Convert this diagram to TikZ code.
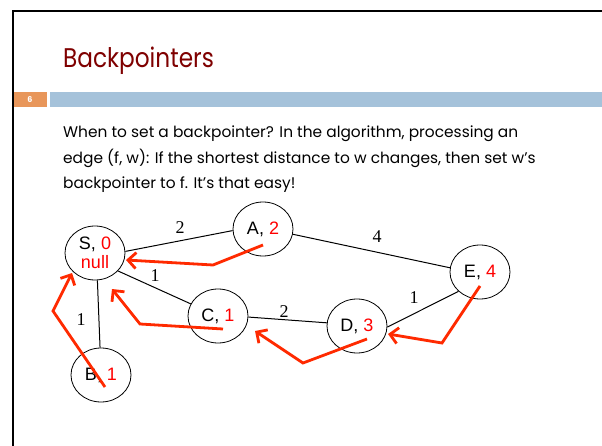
\documentclass[tikz,border=0pt]{standalone}
\usepackage{fontspec}
\setmainfont{Poppins}
\newfontfamily\titlefont[FakeStretch=0.86]{Poppins}
\newfontfamily\arialfont{Liberation Sans}
\newfontfamily\timesfont{Liberation Serif}
\usetikzlibrary{shapes.geometric,arrows.meta}
\definecolor{titlered}{HTML}{7F0000}
\definecolor{barorange}{HTML}{E8965A}
\definecolor{barblue}{HTML}{A5C2DA}
\definecolor{arrowred}{HTML}{FF2A00}
\begin{document}
\begin{tikzpicture}[x=1pt,y=-1pt,
  gnode/.style={draw, ellipse, minimum width=60pt, minimum height=54pt, inner sep=0pt,
    font=\arialfont\fontsize{18}{19}\selectfont, line width=0.8pt, align=center},
  edgeline/.style={line width=1pt},
  wlabel/.style={font=\timesfont\fontsize{18}{18}\selectfont, inner sep=0pt},
  bodytext/.style={anchor=base west, inner sep=0pt, font=\fontsize{15.4}{16}\selectfont},
  bp/.style={draw=arrowred, line width=2.8pt, line join=miter,
    -{Straight Barb[length=8pt,width=16pt]}},
]
\useasboundingbox (0,0) rectangle (602,446);
\fill[white] (0,0) rectangle (602,446);
% slide frame
\draw[line width=2.2pt] (13,460) -- (13,11) -- (620,11);
% title
\node[anchor=base west, text=titlered, inner sep=0pt,
  font=\titlefont\fontsize{27}{30}\selectfont] (title) at (63,68) {Backpointers};
% bars
\fill[barorange] (14,92) rectangle (47,107);
\fill[barblue] (50,92) rectangle (602,107);
\node[text=white, font=\bfseries\fontsize{8}{9}\selectfont, inner sep=0pt] (num) at (30,99.5) {6};
% body text
\node[bodytext] (l1) at (63,138) {When to set a backpointer? In the algorithm, processing an};
\node[bodytext] (l2) at (63,163.5) {edge (f, w): If the shortest distance to w changes, then set w’s};
\node[bodytext] (l3) at (63,189) {backpointer to f. It’s that easy!};
% graph nodes
\node[gnode] (S) at (95,253) {S, {\color{red}0}\\{\color{red}null}};
\node[gnode] (A) at (263,229) {A, {\color{red}2}};
\node[gnode] (E) at (480,272) {E, {\color{red}4}};
\node[gnode] (D) at (357,326) {D, {\color{red}3}};
\node[gnode] (C) at (218,316) {C, {\color{red}1}};
\node[gnode] (B) at (101,375) {B, {\color{red}1}};
% edges
\draw[edgeline] (S.3) -- (A.183);
\draw[edgeline] (A.-10) -- (E.172);
\draw[edgeline] (S.-38) -- (C.156);
\draw[edgeline] (S.-85) -- (B.92);
\draw[edgeline] (C.-2) -- (D.174);
\draw[edgeline] (D.-2) -- (E.222);
% weights
\node[wlabel] (wSA) at (180,228) {2};
\node[wlabel] (wAE) at (377,237) {4};
\node[wlabel] (wSC) at (155,276) {1};
\node[wlabel] (wCD) at (284,312) {2};
\node[wlabel] (wDE) at (414,298) {1};
\node[wlabel] (wSB) at (81,320) {1};
% backpointer arrows
\coordinate (a1) at (263,245); \coordinate (a2) at (213,265); \coordinate (a3) at (126,260);
\coordinate (c1) at (223,329); \coordinate (c2) at (140,324); \coordinate (c3) at (112,289);
\coordinate (b1) at (105,387); \coordinate (b2) at (53,311);  \coordinate (b3) at (72,273);
\coordinate (d1) at (367,339); \coordinate (d2) at (303,363); \coordinate (d3) at (255,331);
\coordinate (e1) at (480,286); \coordinate (e2) at (442,343); \coordinate (e3) at (388,334);
\draw[bp] (a1) -- (a2) -- (a3);
\draw[bp] (c1) -- (c2) -- (c3);
\draw[bp] (b1) -- (b2) -- (b3);
\draw[bp] (d1) -- (d2) -- (d3);
\draw[bp] (e1) -- (e2) -- (e3);
\end{tikzpicture}
\end{document}
